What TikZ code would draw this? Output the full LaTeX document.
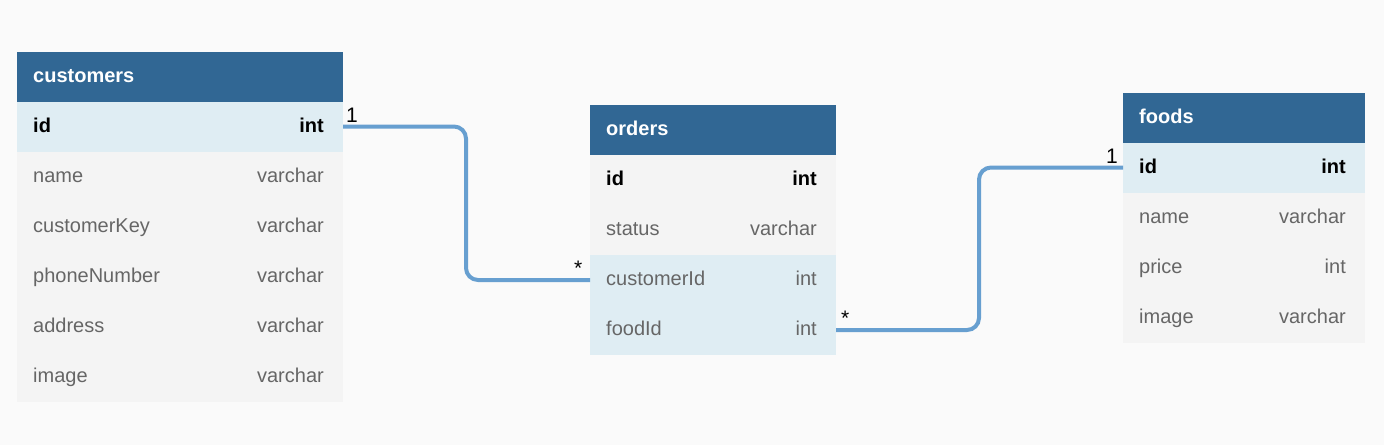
\documentclass[tikz,border=0pt]{standalone}
\usepackage{fontspec}
\setmainfont{Liberation Sans}
\definecolor{bgc}{HTML}{FAFAFA}
\definecolor{hdr}{HTML}{316794}
\definecolor{keyrow}{HTML}{DFEDF3}
\definecolor{plainrow}{HTML}{F4F4F4}
\definecolor{txtgray}{HTML}{666666}
\definecolor{linkc}{HTML}{679FD0}
\tikzset{
  rowbox/.style={rectangle, inner sep=0pt, outer sep=0pt, minimum height=50pt, draw=none, anchor=north west},
  hdrtext/.style={font=\fontsize{20}{22}\selectfont\bfseries, text=white, inner sep=0pt, anchor=base west},
  keytext/.style={font=\fontsize{20}{22}\selectfont\bfseries, text=black, inner sep=0pt},
  fldtext/.style={font=\fontsize{20}{22}\selectfont, text=txtgray, inner sep=0pt},
  relline/.style={draw=linkc, line width=4pt, rounded corners=12pt},
  cardtext/.style={font=\fontsize{21}{23}\selectfont, text=black, inner sep=0pt, anchor=base west},
}
% #1 name, #2 x, #3 ytop, #4 width, #5 fill, #6 left text, #7 right text, #8 text style
\newcommand\erow[8]{%
  \node[rowbox, fill=#5, minimum width=#4] (#1) at (#2,#3) {};
  \node[#8, anchor=base west] (#1-l) at ([shift={(16,5.5)}]#1.west) {#6};
  \node[#8, anchor=base east] (#1-r) at ([shift={(-19,5.5)}]#1.east) {#7};
}
\newcommand\ehead[5]{%
  \node[rowbox, fill=hdr, minimum width=#4] (#1) at (#2,#3) {};
  \node[hdrtext] (#1-t) at ([shift={(16,5.5)}]#1.west) {#5};
}
\begin{document}
\begin{tikzpicture}[x=1pt,y=-1pt]
\fill[bgc] (0,0) rectangle (1384,445);
\useasboundingbox (0,0) rectangle (1384,445);

% customers
\ehead{c-h}{17}{52}{326}{customers}
\erow{c-id}{17}{101.5}{326}{keyrow}{id}{int}{keytext}
\erow{c-name}{17}{151.5}{326}{plainrow}{name}{varchar}{fldtext}
\erow{c-key}{17}{201.5}{326}{plainrow}{customerKey}{varchar}{fldtext}
\erow{c-phone}{17}{251.5}{326}{plainrow}{phoneNumber}{varchar}{fldtext}
\erow{c-addr}{17}{301.5}{326}{plainrow}{address}{varchar}{fldtext}
\erow{c-img}{17}{351.5}{326}{plainrow}{image}{varchar}{fldtext}

% orders
\ehead{o-h}{590}{105}{246}{orders}
\erow{o-id}{590}{155}{246}{plainrow}{id}{int}{keytext}
\erow{o-status}{590}{205}{246}{plainrow}{status}{varchar}{fldtext}
\erow{o-cust}{590}{255}{246}{keyrow}{customerId}{int}{fldtext}
\erow{o-food}{590}{305}{246}{keyrow}{foodId}{int}{fldtext}

% foods
\ehead{f-h}{1123}{93}{242}{foods}
\erow{f-id}{1123}{142.5}{242}{keyrow}{id}{int}{keytext}
\erow{f-name}{1123}{192.5}{242}{plainrow}{name}{varchar}{fldtext}
\erow{f-price}{1123}{242.5}{242}{plainrow}{price}{int}{fldtext}
\erow{f-img}{1123}{292.5}{242}{plainrow}{image}{varchar}{fldtext}

% connectors
\coordinate (m1) at (466,0);
\coordinate (m2) at (979,0);
\draw[relline] (c-id.east) -| (m1 |- o-cust.west) -- (o-cust.west);
\draw[relline] (o-food.east) -| (m2 |- f-id.west) -- (f-id.west);

% cardinalities
\node[cardtext] (k1) at (346,122) {1};
\node[cardtext] (k2) at (574,275) {*};
\node[cardtext] (k3) at (841,325) {*};
\node[cardtext] (k4) at (1106,163) {1};
\end{tikzpicture}
\end{document}
